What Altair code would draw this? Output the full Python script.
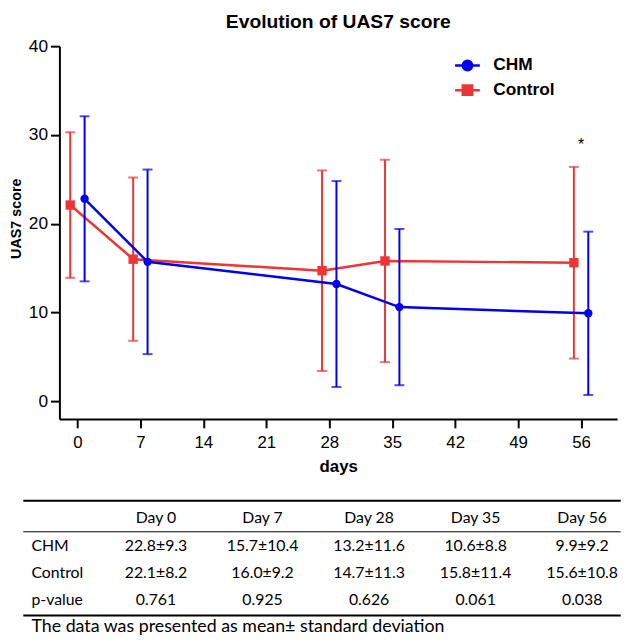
import altair as alt
import pandas as pd

# ---------------- data ----------------
days = [0, 7, 28, 35, 56]
chm_mean = [22.8, 15.7, 13.2, 10.6, 9.9]
chm_sd = [9.3, 10.4, 11.6, 8.8, 9.2]
ctrl_mean = [22.1, 16.0, 14.7, 15.8, 15.6]
ctrl_sd = [8.2, 9.2, 11.3, 11.4, 10.8]
p_values = ["0.761", "0.925", "0.626", "0.061", "0.038"]
series_names = ["CHM", "Control"]
x_ticks = [0, 7, 14, 21, 28, 35, 42, 49, 56]
y_ticks = [0, 10, 20, 30, 40]
row_labels = ["CHM", "Control", "p-value"]
title_text = "Evolution of UAS7 score"
footnote = "The data was presented as mean\u00b1 standard deviation"

# ---------------- style ----------------
BLUE = "#0000ee"
RED = "#ee3535"
FONT = "Liberation Sans"
TFONT = "Lato"
dodge = {"CHM": 0.8, "Control": -0.8}
colors = {"CHM": BLUE, "Control": RED}

rows = []
for s, means, sds in [("Control", ctrl_mean, ctrl_sd), ("CHM", chm_mean, chm_sd)]:
    for d, m, sd in zip(days, means, sds):
        rows.append(dict(series=s, day=d, xpos=d + dodge[s], mean=m,
                         lo=round(m - sd, 2), hi=round(m + sd, 2)))
df = pd.DataFrame(rows)

color_scale = alt.Scale(domain=series_names, range=[BLUE, RED])
xscale = alt.Scale(domain=[-2, 60], nice=False, zero=False)
yscale = alt.Scale(domain=[-2, 40], nice=False, zero=False)

x_axis = alt.Axis(values=x_ticks, title="days", grid=False, domainColor="black",
                  domainWidth=2, tickColor="black", tickWidth=2, tickSize=9,
                  labelFont=FONT, labelFontSize=17, labelColor="black", labelPadding=7,
                  titleFont=FONT, titleFontSize=17, titleFontWeight="bold",
                  titleColor="black", titlePadding=8)
y_axis = alt.Axis(values=y_ticks, title="UAS7 score", grid=False, domainColor="black",
                  domainWidth=2, tickColor="black", tickWidth=2, tickSize=9,
                  labelFont=FONT, labelFontSize=17.5, labelColor="black", labelPadding=3,
                  titleFont=FONT, titleFontSize=14.5, titleFontWeight="bold",
                  titleColor="black", titlePadding=5, titleY=174)


def X(field="xpos"):
    return alt.X(f"{field}:Q", scale=xscale, axis=x_axis)


def Y(field):
    return alt.Y(f"{field}:Q", scale=yscale, axis=y_axis)


layers = []
for s, shape, size in [("Control", "square", 90), ("CHM", "circle", 72)]:
    c = colors[s]
    base = alt.Chart(df).transform_filter(alt.datum.series == s)
    layers.append(base.mark_rule(strokeWidth=2, color=c).encode(x=X(), y=Y("lo"), y2="hi:Q"))
    layers.append(base.mark_tick(orient="horizontal", size=10, thickness=2, color=c)
                  .encode(x=X(), y=Y("lo")))
    layers.append(base.mark_tick(orient="horizontal", size=10, thickness=2, color=c)
                  .encode(x=X(), y=Y("hi")))
    layers.append(base.mark_line(strokeWidth=2.5, color=c).encode(x=X(), y=Y("mean")))
    layers.append(base.mark_point(shape=shape, filled=True, size=size, opacity=1, color=c)
                  .encode(x=X(), y=Y("mean")))


# legend whose symbols are a line with the marker on it
def circle_path(r):
    k = round(0.5523 * r, 4)
    return (f"M-1,0H1M{r},0C{r},{k} {k},{r} 0,{r}C{-k},{r} {-r},{k} {-r},0"
            f"C{-r},{-k} {-k},{-r} 0,{-r}C{k},{-r} {r},{-k} {r},0Z")


def square_path(h):
    return f"M-1,0H1M{-h},{-h}H{h}V{h}H{-h}Z"


leg = alt.Legend(orient="none", legendX=398.7, legendY=5.5, title=None,
                 symbolSize=625, symbolStrokeWidth=2.5, symbolOpacity=1,
                 labelFont=FONT, labelFontSize=17.5, labelFontWeight="bold",
                 labelColor="black", labelOffset=12, rowPadding=1, padding=0)
legend_df = pd.DataFrame({"series": series_names})
sym_scale = alt.Scale(domain=series_names, range=[circle_path(0.38), square_path(0.38)])
legend_layer = (alt.Chart(legend_df)
                .mark_point(filled=True, opacity=0, strokeWidth=2.5)
                .encode(shape=alt.Shape("series:N", scale=sym_scale, legend=leg),
                        fill=alt.Fill("series:N", scale=color_scale, legend=leg),
                        stroke=alt.Stroke("series:N", scale=color_scale, legend=leg)))
layers.append(legend_layer)

# significance star where p < 0.05
star_rows = []
for d, cm, cs, tm, ts, p in zip(days, chm_mean, chm_sd, ctrl_mean, ctrl_sd, p_values):
    if float(p) < 0.05:
        star_rows.append(dict(day=d, top=max(cm + cs, tm + ts)))
star_df = pd.DataFrame(star_rows)
layers.append(alt.Chart(star_df).mark_text(text="*", font=FONT, fontSize=16, dy=-22,
                                           baseline="middle", color="black")
              .encode(x=X("day"), y=Y("top")))

top = alt.layer(*layers).properties(
    width=564, height=377,
    title=alt.TitleParams(title_text, font=FONT, fontSize=19.5, fontWeight="bold",
                          anchor="middle", frame="group", offset=5, color="black"))

# ---------------- table ----------------
cells = []
for k, d in enumerate(days):
    cells.append(dict(col=k + 1, row=0, text=f"Day {d}"))
    cells.append(dict(col=k + 1, row=1, text=f"{chm_mean[k]:.1f}\u00b1{chm_sd[k]:.1f}"))
    cells.append(dict(col=k + 1, row=2, text=f"{ctrl_mean[k]:.1f}\u00b1{ctrl_sd[k]:.1f}"))
    cells.append(dict(col=k + 1, row=3, text=p_values[k]))
cells_df = pd.DataFrame(cells)
labels_df = pd.DataFrame({"col": [0] * len(row_labels), "row": [1, 2, 3], "text": row_labels})
foot_df = pd.DataFrame({"col": [0], "row": [3.97], "text": [footnote]})
lines_df = pd.DataFrame({"row": [-0.64, 0.495, 3.55], "w": [2, 1, 2],
                         "x0": [-0.246] * 3, "x1": [5.362] * 3})

tx = alt.Scale(domain=[0.0933, 5.3276], nice=False, zero=False)
ty = alt.Scale(domain=[-0.9, 3.9], nice=False, zero=False, reverse=True)

t_cells = alt.Chart(cells_df).mark_text(font=TFONT, fontSize=16, align="center",
                                        baseline="middle", color="black").encode(
    x=alt.X("col:Q", scale=tx, axis=None), y=alt.Y("row:Q", scale=ty, axis=None), text="text:N")
t_labels = alt.Chart(labels_df).mark_text(font=TFONT, fontSize=16, align="left", dx=-18.25,
                                          baseline="middle", color="black").encode(
    x=alt.X("col:Q", scale=tx, axis=None), y=alt.Y("row:Q", scale=ty, axis=None), text="text:N")
t_foot = alt.Chart(foot_df).mark_text(font=TFONT, fontSize=18, align="left", dx=-18.25,
                                      baseline="middle", color="black").encode(
    x=alt.X("col:Q", scale=tx, axis=None), y=alt.Y("row:Q", scale=ty, axis=None), text="text:N")
t_lines = alt.Chart(lines_df).mark_rule(color="black").encode(
    y=alt.Y("row:Q", scale=ty, axis=None),
    x=alt.X("x0:Q", scale=tx, axis=None), x2="x1:Q",
    strokeWidth=alt.StrokeWidth("w:Q", scale=None))

table = alt.layer(t_lines, t_cells, t_labels, t_foot).properties(width=564, height=133)

chart = alt.vconcat(top, table, spacing=19.5).properties(
    padding={"left": 0, "top": 0, "right": 0, "bottom": 0},
    background="white").configure_view(stroke=None)

chart.save("out.html", embed_options={"renderer": "svg", "actions": False})
